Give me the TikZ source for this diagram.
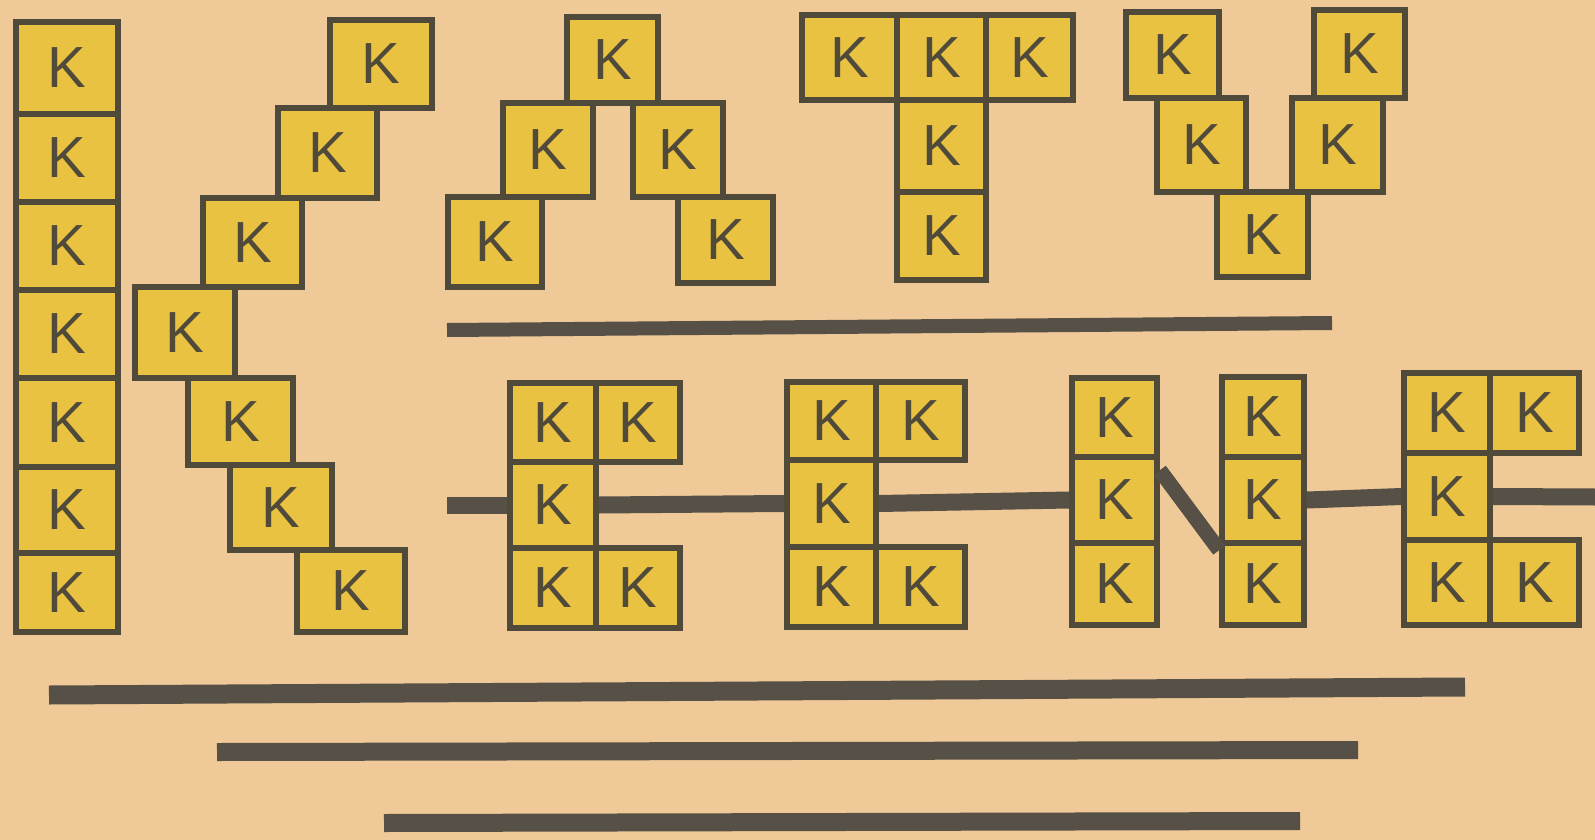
\documentclass[tikz,border=0pt]{standalone}
\usepackage{fontspec}
\newfontfamily\kfont{Liberation Sans}
\usetikzlibrary{calc}
\definecolor{paper}{RGB}{240,201,152}
\definecolor{cellfill}{RGB}{234,194,66}
\definecolor{ink}{RGB}{80,74,58}
\definecolor{barink}{RGB}{86,80,70}
\tikzset{
  kbox/.style={draw=ink, fill=cellfill, line width=2.8pt, inner sep=0pt, text=ink,
    font=\kfont\fontsize{29}{29}\selectfont},
  bar/.style={draw=barink, line width=#1},
  bar/.default=8.5pt
}
\newcommand\kcell[5]{%
  \pgfmathsetmacro\kcw{(#4-#2)*0.5}%
  \pgfmathsetmacro\kch{(#5-#3)*0.5}%
  \node[kbox, minimum width=\kcw pt, minimum height=\kch pt] (#1) at ({(#2+#4)/2},{(#3+#5)/2}) {K};}
\begin{document}
\begin{tikzpicture}[x=0.5pt,y=-0.5pt]
\fill[paper] (0,0) rectangle (1595,840);
\useasboundingbox (0,0) rectangle (1595,840);
% column of seven
\kcell{c1}{16}{22}{118}{114}
\kcell{c2}{16}{114}{118}{202}
\kcell{c3}{16}{202}{118}{290}
\kcell{c4}{16}{290}{118}{378}
\kcell{c5}{16}{378}{118}{467}
\kcell{c6}{16}{467}{118}{553}
\kcell{c7}{16}{553}{118}{632}
% staircase
\kcell{s1}{330}{20}{432}{108}
\kcell{s2}{278}{108}{377}{198}
\kcell{s3}{203}{198}{302}{287}
\kcell{s4}{135}{287}{235}{378}
\kcell{s5}{188}{378}{293}{465}
\kcell{s6}{230}{465}{332}{550}
\kcell{s7}{297}{550}{405}{632}
% Lambda
\kcell{l1}{567}{17}{658}{103}
\kcell{l2}{503}{103}{593}{197}
\kcell{l3}{633}{103}{723}{197}
\kcell{l4}{448}{197}{542}{287}
\kcell{l5}{678}{197}{773}{283}
% T
\kcell{t1}{802}{15}{897}{100}
\kcell{t2}{897}{15}{986}{100}
\kcell{t3}{986}{15}{1073}{100}
\kcell{t4}{897}{100}{986}{192}
\kcell{t5}{897}{192}{986}{280}
% V
\kcell{v1}{1126}{12}{1219}{98}
\kcell{v2}{1314}{10}{1405}{98}
\kcell{v3}{1157}{98}{1246}{192}
\kcell{v4}{1292}{98}{1383}{192}
\kcell{v5}{1217}{192}{1308}{277}
% divider
\coordinate (d1) at (447,330);
\coordinate (d2) at (1332,323);
\draw[bar=7pt] (d1) -- (d2);
% middle line
\coordinate (m0) at (447,505);
\coordinate (m9) at (1595,497);
% E1
\kcell{a1}{510}{383}{596}{462}
\kcell{a2}{596}{383}{680}{462}
\kcell{a3}{510}{462}{596}{548}
\kcell{a4}{510}{548}{596}{628}
\kcell{a5}{596}{548}{680}{628}
% E2
\kcell{b1}{787}{382}{876}{460}
\kcell{b2}{876}{382}{965}{460}
\kcell{b3}{787}{460}{876}{547}
\kcell{b4}{787}{547}{876}{627}
\kcell{b5}{876}{547}{965}{627}
% N
\kcell{n1}{1072}{378}{1157}{457}
\kcell{n2}{1072}{457}{1157}{543}
\kcell{n3}{1072}{543}{1157}{625}
\kcell{n4}{1222}{377}{1304}{457}
\kcell{n5}{1222}{457}{1304}{543}
\kcell{n6}{1222}{543}{1304}{625}
% last E
\kcell{f1}{1404}{373}{1490}{453}
\kcell{f2}{1490}{373}{1579}{453}
\kcell{f3}{1404}{453}{1490}{540}
\kcell{f4}{1404}{540}{1490}{625}
\kcell{f5}{1490}{540}{1579}{625}
% connectors
\begin{scope}[on background layer/.style={}]
\draw[bar] (m0) -- (a3.west);
\draw[bar] (a3.east) -- (b3.west);
\draw[bar] (b3.east) -- (n2.west);
\draw[bar=7.5pt] ($(n2.north east)+(0,16)$) -- ($(n6.north west)+(0,10)$);
\draw[bar] (n5.east) -- (f3.west);
\draw[bar] (f3.east) -- (m9);
\end{scope}
% bottom lines
\coordinate (p1) at (49,695); \coordinate (p2) at (1465,687);
\coordinate (q1) at (217,752); \coordinate (q2) at (1358,750);
\coordinate (r1) at (384,823); \coordinate (r2) at (1300,821);
\draw[bar=9.5pt] (p1) -- (p2);
\draw[bar=9pt] (q1) -- (q2);
\draw[bar=9pt] (r1) -- (r2);
\end{tikzpicture}
\end{document}
